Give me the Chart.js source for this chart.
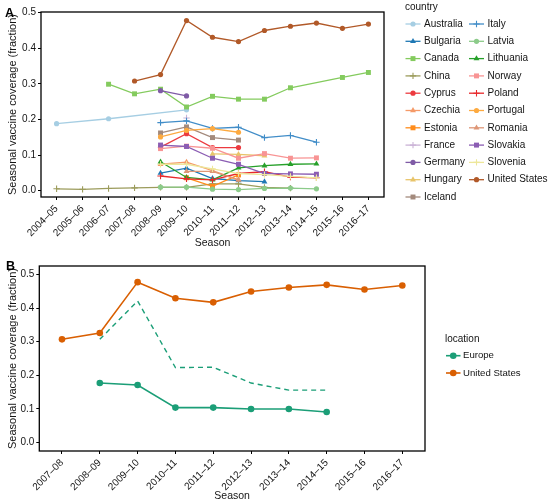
<!DOCTYPE html>
<html><head><meta charset="utf-8">
<script src="https://cdn.jsdelivr.net/npm/chart.js@4"></script>
<style>
html,body{margin:0;padding:0;background:#fff;}
#wrap{position:relative;width:550px;height:504px;overflow:hidden;}
canvas{position:absolute;left:0;}
#ca{top:0;} #cb{top:258px;}
</style></head><body>
<div id="wrap"><canvas id="ca" width="550" height="258"></canvas><canvas id="cb" width="550" height="246"></canvas></div>
<script>
// ---------- data ----------
const seasonsA = ['2004–05','2005–06','2006–07','2007–08','2008–09','2009–10','2010–11','2011–12','2012–13','2013–14','2014–15','2015–16','2016–17'];
const seasonsB = ['2007–08','2008–09','2009–10','2010–11','2011–12','2012–13','2013–14','2014–15','2015–16','2016–17'];
const yTicks = [0, 0.1, 0.2, 0.3, 0.4, 0.5];

const countries = ['Australia','Bulgaria','Canada','China','Cyprus','Czechia','Estonia','France','Germany','Hungary','Iceland','Italy','Latvia','Lithuania','Norway','Poland','Portugal','Romania','Slovakia','Slovenia','United States'];
const countryColors = ['#a6cee3','#1f78b4','#84cb5e','#9c9c5c','#ec3a3f','#f59a68','#ff8c1a','#cab2d6','#7f5ba6','#e8c46a','#a38a7c','#418dc8','#8ccb8a','#27a02a','#f89494','#e8292b','#fdaa40','#de9676','#8b5db3','#ede79a','#b15928'];
const countryShapes = ['circle','triangle','rect','cross','circle','triangle','rect','cross','circle','triangle','rect','cross','circle','triangle','rect','cross','circle','triangle','rect','cross','circle'];

const australia = [0.188,null,0.202,null,null,0.227,null,null,null,null,null,null,null];
const bulgaria  = [null,null,null,null,0.049,0.063,0.034,0.028,0.025,null,null,null,null];
const canada    = [null,null,0.299,0.272,0.285,0.235,0.265,0.257,0.257,0.289,null,0.318,0.332];
const china     = [0.005,0.0035,0.006,0.0076,0.009,0.009,0.019,0.019,0.009,0.007,null,null,null];
const cyprus    = [null,null,null,null,0.122,0.160,0.121,0.121,null,null,null,null,null];
const czechia   = [null,null,null,null,0.074,0.080,0.056,0.030,null,null,null,null,null];
const estonia   = [null,null,null,null,null,0.036,0.012,0.044,null,null,null,null,null];
const france    = [null,null,null,null,null,0.204,null,null,null,null,null,null,null];
const germany   = [null,null,null,null,0.281,0.266,null,null,null,null,null,null,null];
const hungary   = [null,null,null,null,null,null,0.103,0.102,0.098,null,null,null,null];
const iceland   = [null,null,null,null,0.162,0.179,0.149,0.142,null,null,null,null,null];
const italy     = [null,null,null,null,0.191,0.196,0.175,0.178,0.149,0.155,0.136,null,null];
const latvia    = [null,null,null,null,0.0095,0.0095,0.004,0.003,0.006,0.007,0.005,null,null];
const lithuania = [null,null,null,null,0.081,0.037,0.030,0.064,0.070,0.074,0.075,null,null];
const norway    = [null,null,null,null,0.118,0.125,0.119,0.091,0.104,0.091,0.092,null,null];
const poland    = [null,null,null,null,0.041,0.033,0.030,0.048,0.053,0.038,0.036,null,null];
const portugal  = [null,null,null,null,0.151,0.169,0.174,0.164,null,null,null,null,null];
const romania   = [null,null,null,null,null,0.054,0.054,0.030,null,null,null,null,null];
const slovakia  = [null,null,null,null,0.128,0.124,0.091,0.074,0.048,0.047,0.046,null,null];
const slovenia  = [null,null,null,null,0.074,0.074,0.061,0.048,0.045,0.040,0.036,null,null];
const unitedStates = [null,null,null,0.308,0.326,0.478,0.431,0.419,0.450,0.462,0.471,0.456,0.468];
const countryValues = [australia,bulgaria,canada,china,cyprus,czechia,estonia,france,germany,hungary,iceland,italy,latvia,lithuania,norway,poland,portugal,romania,slovakia,slovenia,unitedStates];

const locations = ['Europe','United States'];
const locationColors = ['#1b9e77','#d95f02'];
const europe      = [null,0.177,0.171,0.104,0.104,0.100,0.100,0.091,null,null];
const europeUpper = [null,0.307,0.421,0.223,0.224,0.177,0.156,0.156,null,null];
const usB         = [0.307,0.326,0.477,0.429,0.417,0.449,0.461,0.469,0.455,0.467];

// ---------- helpers ----------
const FONT = "'Liberation Sans', Arial, Helvetica, sans-serif";
const TXT = '#141414';
Chart.defaults.font.family = FONT;
Chart.defaults.color = TXT;

function pts(arr){ return arr.map((v,i)=> v==null?null:{x:i,y:v}).filter(p=>p); }
const radiusFor = {circle:2.6, triangle:3.4, rect:3.5, cross:3.2};

function drawSymbol(ctx, style, r, x, y, color, lw){
  ctx.save();
  ctx.fillStyle = color; ctx.strokeStyle = color; ctx.lineWidth = lw;
  ctx.beginPath();
  if (style === 'circle') { ctx.arc(x, y, r, 0, Math.PI*2); ctx.fill(); }
  else if (style === 'triangle') {
    let a = 0;
    ctx.moveTo(x + Math.sin(a)*r, y - Math.cos(a)*r);
    a += 2*Math.PI/3; ctx.lineTo(x + Math.sin(a)*r, y - Math.cos(a)*r);
    a += 2*Math.PI/3; ctx.lineTo(x + Math.sin(a)*r, y - Math.cos(a)*r);
    ctx.closePath(); ctx.fill();
  } else if (style === 'rect') { const s = r*Math.SQRT1_2; ctx.rect(x-s, y-s, 2*s, 2*s); ctx.fill(); }
  else if (style === 'cross') { ctx.moveTo(x-r, y); ctx.lineTo(x+r, y); ctx.moveTo(x, y-r); ctx.lineTo(x, y+r); ctx.stroke(); }
  ctx.restore();
}

function framePlugin(letter, lx, ly, legend){
  return {
    id: 'frame'+letter,
    afterDraw(chart){
      const {ctx, chartArea: a} = chart;
      ctx.save();
      ctx.strokeStyle = '#000'; ctx.lineWidth = 1.3;
      ctx.strokeRect(a.left, a.top, a.right - a.left, a.bottom - a.top);
      ctx.fillStyle = '#000'; ctx.font = 'bold 12.5px ' + FONT;
      ctx.textBaseline = 'middle'; ctx.textAlign = 'left';
      ctx.fillText(letter, lx, ly);
      // legend
      ctx.fillStyle = TXT; ctx.font = legend.titleSize + 'px ' + FONT;
      ctx.fillText(legend.title, legend.titleX, legend.titleY);
      ctx.font = legend.size + 'px ' + FONT;
      legend.items.forEach((it, i) => {
        const col = Math.floor(i / legend.perCol);
        const row = i % legend.perCol;
        const y = legend.y0 + row * legend.dy;
        const sx = legend.symX[col];
        ctx.strokeStyle = it.color; ctx.lineWidth = legend.lw;
        ctx.beginPath(); ctx.moveTo(sx, y); ctx.lineTo(sx + legend.symW, y); ctx.stroke();
        drawSymbol(ctx, it.shape, it.r, sx + legend.symW/2, y, it.color, 1.1);
        ctx.fillStyle = TXT;
        ctx.fillText(it.label, legend.textX[col], y);
      });
      ctx.restore();
    }
  };
}

function axes(labels, xmin, xmax, ymin, ymax, yWidth, xHeight, titlePadB){
  return {
    x: {
      type: 'linear', min: xmin, max: xmax,
      afterBuildTicks: s => { s.ticks = labels.map((_, i) => ({value: i})); },
      afterFit: s => { s.height = xHeight; },
      ticks: { autoSkip: false, minRotation: 45, maxRotation: 45, padding: 3,
               font: {size: 10}, color: TXT, callback: v => labels[v] },
      grid: { display: true, drawOnChartArea: false, drawTicks: true, tickLength: 3, tickColor: '#000', tickWidth: 1 },
      border: { display: false },
      title: { display: true, text: 'Season', font: {size: 10.5}, color: TXT, padding: {top: 0, bottom: titlePadB} }
    },
    y: {
      type: 'linear', min: ymin, max: ymax,
      afterBuildTicks: s => { s.ticks = yTicks.map(v => ({value: v})); },
      afterFit: s => { s.width = yWidth; },
      ticks: { padding: 2, font: {size: 10}, color: TXT, callback: v => v.toFixed(1) },
      grid: { display: true, drawOnChartArea: false, drawTicks: true, tickLength: 3, tickColor: '#000', tickWidth: 1 },
      border: { display: false },
      title: { display: true, text: 'Seasonal vaccine coverage (fraction)', font: {size: 11}, color: TXT, padding: {top: 6, bottom: 0} }
    }
  };
}

// ---------- panel A ----------
const N = countries.length;
const dsA = countries.map((c, i) => ({
  label: c,
  data: pts(countryValues[i]),
  borderColor: countryColors[i],
  backgroundColor: countryColors[i],
  pointBackgroundColor: countryColors[i],
  pointBorderColor: countryColors[i],
  pointStyle: countryShapes[i],
  pointRadius: radiusFor[countryShapes[i]],
  pointBorderWidth: countryShapes[i] === 'cross' ? 1.1 : 0,
  borderWidth: 1.3,
  tension: 0,
  spanGaps: true,
  order: N - 1 - i
}));

const legendA = {
  title: 'country', titleX: 405, titleY: 7.5, titleSize: 10, size: 10,
  perCol: 11, y0: 24, dy: 17.3, symX: [405.5, 469], symW: 15, textX: [424, 487.5], lw: 1.3,
  items: countries.map((c, i) => ({label: c, color: countryColors[i], shape: countryShapes[i], r: radiusFor[countryShapes[i]]}))
};

new Chart(document.getElementById('ca'), {
  type: 'line',
  data: { datasets: dsA },
  options: {
    responsive: false, animation: false,
    layout: { padding: { top: 12, left: 0, right: 166, bottom: 0 } },
    plugins: { legend: { display: false }, tooltip: { enabled: false } },
    scales: axes(seasonsA, -0.6, 12.6, -0.018, 0.502, 41, 61, 9)
  },
  plugins: [framePlugin('A', 5, 13.5, legendA)]
});

// ---------- panel B ----------
const dsB = [
  { label: 'United States', data: pts(usB), borderColor: locationColors[1], backgroundColor: locationColors[1],
    pointBackgroundColor: locationColors[1], pointBorderWidth: 0, pointRadius: 3.3, borderWidth: 1.6, order: 0 },
  { label: 'Europe', data: pts(europe), borderColor: locationColors[0], backgroundColor: locationColors[0],
    pointBackgroundColor: locationColors[0], pointBorderWidth: 0, pointRadius: 3.3, borderWidth: 1.6, order: 1 },
  { label: 'Europe (upper)', data: pts(europeUpper), borderColor: locationColors[0], borderDash: [5, 4],
    pointRadius: 0, borderWidth: 1.4, order: 2 }
];

const legendB = {
  title: 'location', titleX: 445, titleY: 81, titleSize: 10, size: 9.6,
  perCol: 2, y0: 97.7, dy: 17.3, symX: [446], symW: 14.5, textX: [463], lw: 1.6,
  items: locations.map((c, i) => ({label: c, color: locationColors[i], shape: 'circle', r: 3.3}))
};

new Chart(document.getElementById('cb'), {
  type: 'line',
  data: { datasets: dsB },
  options: {
    responsive: false, animation: false,
    layout: { padding: { top: 7, left: 0, right: 125, bottom: 0 } },
    plugins: { legend: { display: false }, tooltip: { enabled: false } },
    scales: axes(seasonsB, -0.6, 9.6, -0.025, 0.525, 39.3, 53, 1.5)
  },
  plugins: [framePlugin('B', 6, 8.5, legendB)]
});
</script>
</body></html>
